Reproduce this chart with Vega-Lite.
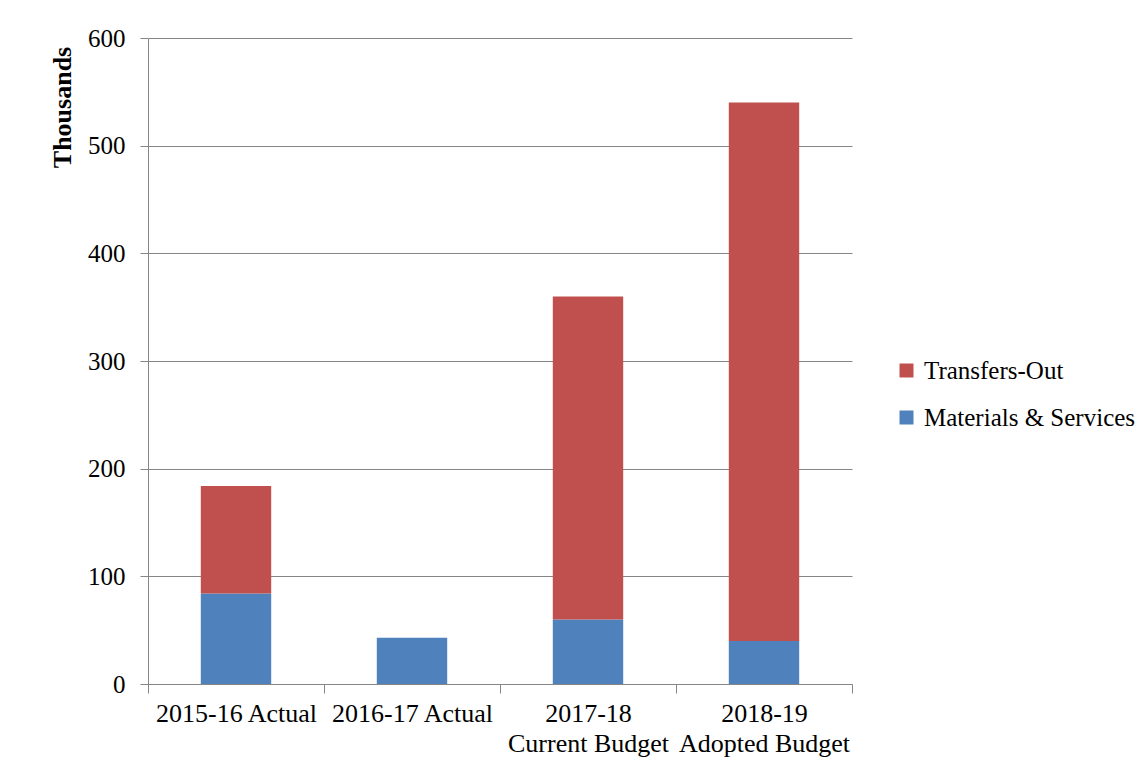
{
  "$schema": "https://vega.github.io/schema/vega-lite/v6.json",
  "width": 704,
  "height": 646,
  "autosize": {"type": "none"},
  "padding": {"left": 148, "top": 38, "right": 296, "bottom": 88},
  "background": "white",
  "config": {
    "view": {"stroke": null},
    "font": "Liberation Serif",
    "axis": {"labelFont": "Liberation Serif", "titleFont": "Liberation Serif"},
    "legend": {"labelFont": "Liberation Serif"}
  },
  "data": {
    "values": [
      {"period": "2015-16 Actual", "category": "Materials & Services", "value": 84},
      {"period": "2015-16 Actual", "category": "Transfers-Out", "value": 100},
      {"period": "2016-17 Actual", "category": "Materials & Services", "value": 43},
      {"period": "2017-18 Current Budget", "category": "Materials & Services", "value": 60},
      {"period": "2017-18 Current Budget", "category": "Transfers-Out", "value": 300},
      {"period": "2018-19 Adopted Budget", "category": "Materials & Services", "value": 40},
      {"period": "2018-19 Adopted Budget", "category": "Transfers-Out", "value": 500}
    ]
  },
  "mark": {"type": "bar", "width": {"band": 0.4}},
  "encoding": {
    "x": {
      "field": "period",
      "type": "nominal",
      "sort": ["2015-16 Actual", "2016-17 Actual", "2017-18 Current Budget", "2018-19 Adopted Budget"],
      "scale": {"paddingInner": 0, "paddingOuter": 0},
      "axis": {
        "title": null,
        "labelAngle": 0,
        "tickBand": "extent",
        "labelFontSize": 26,
        "labelColor": "black",
        "labelLineHeight": 30,
        "labelPadding": 7,
        "labelLimit": 300,
        "labelExpr": "indexof(datum.label, 'Budget') > 0 ? [slice(datum.label, 0, 7), slice(datum.label, 8)] : datum.label",
        "domainColor": "#868686",
        "tickColor": "#868686",
        "tickSize": 9,
        "grid": false
      }
    },
    "y": {
      "field": "value",
      "type": "quantitative",
      "stack": "zero",
      "scale": {"domain": [0, 600], "nice": false},
      "axis": {
        "title": "Thousands",
        "titleFontSize": 26,
        "titleFontWeight": "bold",
        "titleColor": "black",
        "titleAngle": 270,
        "titleX": -86,
        "titleY": 69,
        "titleAlign": "center",
        "titleBaseline": "middle",
        "values": [0, 100, 200, 300, 400, 500, 600],
        "labelFontSize": 25,
        "labelColor": "black",
        "labelPadding": 15,
        "tickSize": 8,
        "tickColor": "#868686",
        "domainColor": "#868686",
        "grid": true,
        "gridColor": "#868686",
        "gridOpacity": 1
      }
    },
    "color": {
      "field": "category",
      "type": "nominal",
      "scale": {"domain": ["Transfers-Out", "Materials & Services"], "range": ["#C0504D", "#4F81BD"]},
      "legend": {
        "title": null,
        "orient": "none",
        "legendX": 746,
        "legendY": 320,
        "symbolType": "square",
        "symbolSize": 196,
        "symbolStrokeWidth": 0,
        "labelFontSize": 25,
        "labelColor": "black",
        "labelOffset": 5,
        "labelLimit": 400,
        "rowPadding": 21
      }
    },
    "order": {"field": "category", "sort": "ascending"}
  }
}
